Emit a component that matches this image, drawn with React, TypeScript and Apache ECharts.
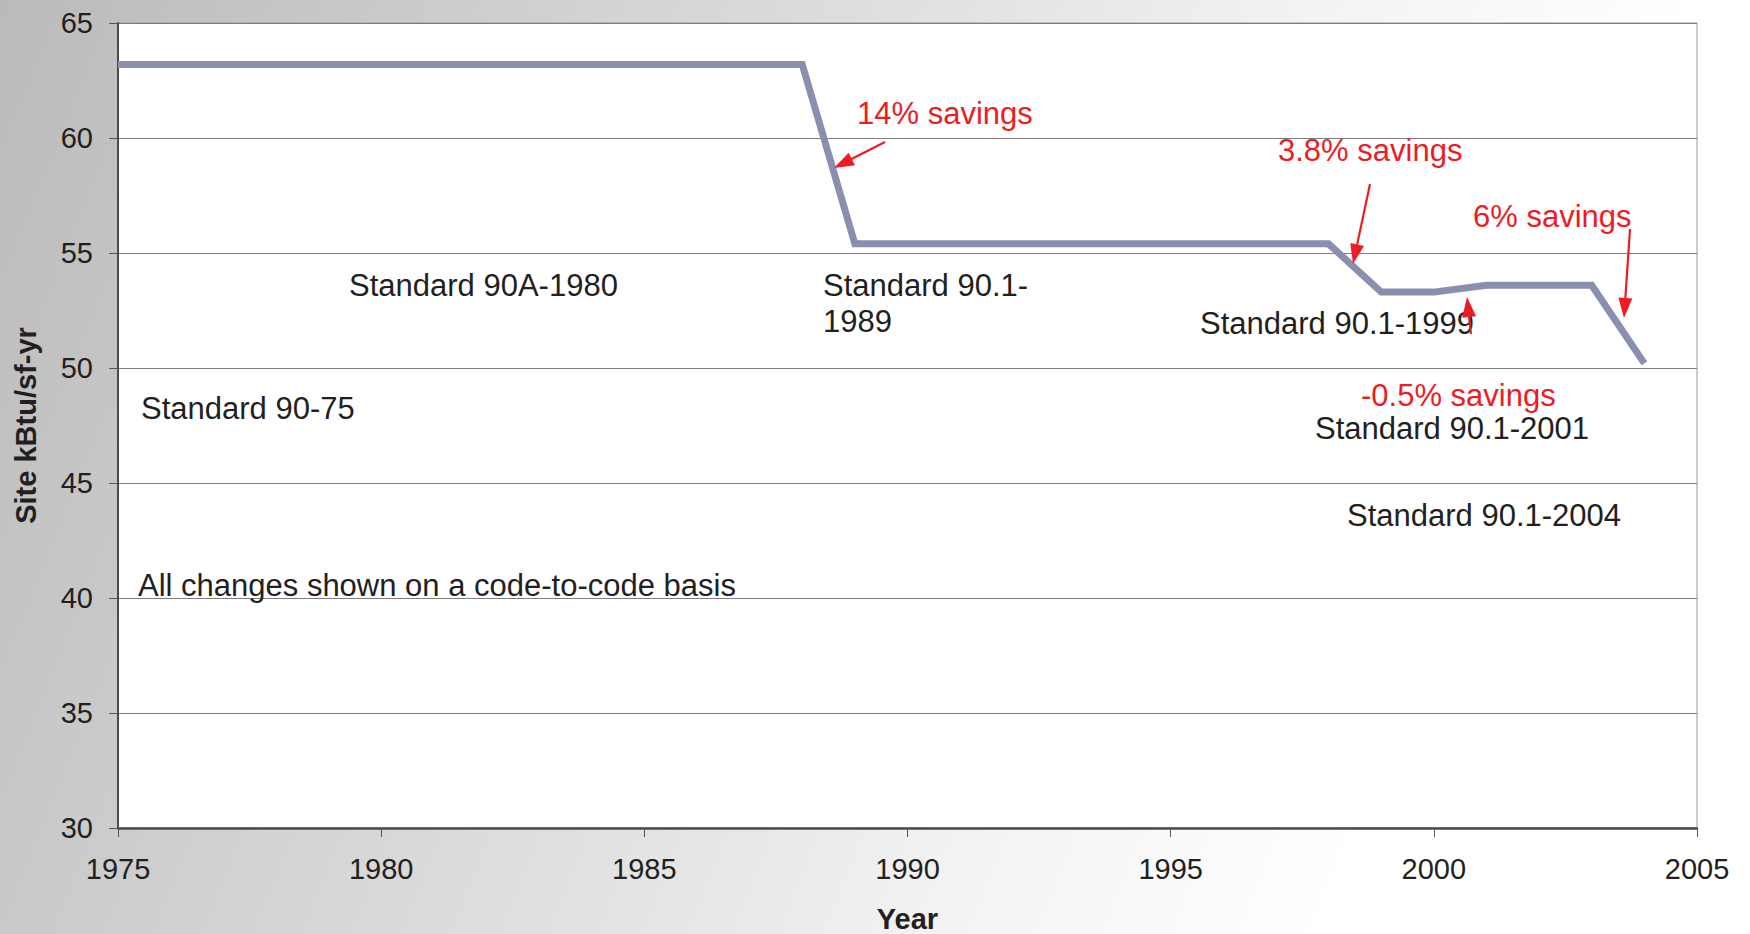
import React, { useEffect, useRef } from "react";
import * as echarts from "echarts";

const years = [1975, 1988, 1989, 1998, 1999, 2000, 2001, 2003, 2004];
const siteEUI = [63.2, 63.2, 55.4, 55.4, 53.3, 53.3, 53.6, 53.6, 50.2];

const xMin = 1975;
const xMax = 2005;
const xStep = 5;
const yMin = 30;
const yMax = 65;
const yStep = 5;

const standardLabels = [
  "Standard 90-75",
  "Standard 90A-1980",
  "Standard 90.1-\n1989",
  "Standard 90.1-1999",
  "Standard 90.1-2001",
  "Standard 90.1-2004",
];
const savingsLabels = ["14% savings", "3.8% savings", "-0.5% savings", "6% savings"];
const noteLabel = "All changes shown on a code-to-code basis";

const FONT = '"Liberation Sans", Arial, Helvetica, sans-serif';
const RED = "#ed1c24";
const INK = "#231f20";

// label positions (pixels)
const standardPos = [
  [141, 408],
  [349, 285],
  [823, 285],
  [1200, 323],
  [1315, 428],
  [1347, 515],
];
const savingsPos = [
  [857, 113],
  [1278, 150],
  [1361, 395],
  [1473, 216],
];
const arrowPos = [
  [885, 142, 834, 168],
  [1370, 184, 1353, 264],
  [1471, 334, 1467, 297],
  [1630, 229, 1624, 318],
];
const notePos = [138, 585];

function arrow(x1: number, y1: number, x2: number, y2: number) {
  const headLen = 20;
  const headW = 14;
  const dx = x2 - x1;
  const dy = y2 - y1;
  const L = Math.hypot(dx, dy);
  const ux = dx / L;
  const uy = dy / L;
  const bx = x2 - ux * headLen;
  const by = y2 - uy * headLen;
  const px = -uy;
  const py = ux;
  return [
    {
      type: "line",
      z: 100,
      shape: { x1, y1, x2: bx + ux * 2, y2: by + uy * 2 },
      style: { stroke: RED, lineWidth: 2.2 },
    },
    {
      type: "polygon",
      z: 100,
      shape: {
        points: [
          [x2, y2],
          [bx + (px * headW) / 2, by + (py * headW) / 2],
          [bx - (px * headW) / 2, by - (py * headW) / 2],
        ],
      },
      style: { fill: RED },
    },
  ];
}

function textEl(text: string, x: number, y: number, color: string) {
  const multi = text.includes("\n");
  return {
    type: "text",
    z: 100,
    x,
    y,
    style: {
      text,
      fill: color,
      font: `31px ${FONT}`,
      align: "left",
      verticalAlign: "middle",
      lineHeight: multi ? 36 : 30,
    },
  };
}

export default function App() {
  const ref = useRef<HTMLDivElement>(null);

  useEffect(() => {
    if (!ref.current) return;
    const chart = echarts.init(ref.current, undefined, { renderer: "svg" });

    const graphics: any[] = [];
    standardLabels.forEach((t, i) => {
      const [x, y] = standardPos[i];
      const yy = t.includes("\n") ? y + 18 : y;
      graphics.push(textEl(t, x, yy, INK));
    });
    savingsLabels.forEach((t, i) => {
      const [x, y] = savingsPos[i];
      graphics.push(textEl(t, x, y, RED));
    });
    graphics.push(textEl(noteLabel, notePos[0], notePos[1], INK));
    arrowPos.forEach((a) => {
      graphics.push(...arrow(a[0], a[1], a[2], a[3]));
    });

    chart.setOption({
      animation: false,
      backgroundColor: "transparent",
      grid: {
        left: 118,
        right: 53,
        top: 23,
        bottom: 106,
        show: true,
        backgroundColor: "#ffffff",
        borderColor: "#9a9a9a",
        borderWidth: 1,
        containLabel: false,
        outerBoundsMode: "none",
      },
      xAxis: {
        type: "value",
        min: xMin,
        max: xMax,
        interval: xStep,
        name: "Year",
        nameLocation: "middle",
        nameGap: 76,
        nameTextStyle: {
          fontFamily: FONT,
          fontSize: 29,
          fontWeight: "bold",
          color: INK,
        },
        axisLine: { show: true, lineStyle: { color: "#4a4a4a", width: 2.5 } },
        axisTick: { show: true, inside: false, length: 9, lineStyle: { color: "#555", width: 1 } },
        axisLabel: {
          margin: 26,
          fontFamily: FONT,
          fontSize: 29,
          color: INK,
          formatter: (v: number) => String(v),
        },
        splitLine: { show: false },
      },
      yAxis: {
        type: "value",
        min: yMin,
        max: yMax,
        interval: yStep,
        name: "Site kBtu/sf-yr",
        nameLocation: "middle",
        nameGap: 78,
        nameRotate: 90,
        nameTextStyle: {
          fontFamily: FONT,
          fontSize: 29,
          fontWeight: "bold",
          color: INK,
        },
        axisLine: { show: true, lineStyle: { color: "#4a4a4a", width: 2 } },
        axisTick: { show: true, inside: false, length: 9, lineStyle: { color: "#555", width: 1 } },
        axisLabel: {
          margin: 25,
          fontFamily: FONT,
          fontSize: 29,
          color: INK,
          formatter: (v: number) => String(v),
        },
        splitLine: { show: true, lineStyle: { color: "#7d7d7d", width: 1 } },
      },
      series: [
        {
          type: "line",
          data: years.map((y, i) => [y, siteEUI[i]]),
          symbol: "none",
          showSymbol: false,
          z: 5,
          lineStyle: { color: "#8a8fb0", width: 7, join: "miter" },
        },
      ],
      graphic: graphics,
    });

    return () => chart.dispose();
  }, []);

  return (
    <div
      ref={ref}
      style={{
        position: "fixed",
        left: 0,
        top: 0,
        width: 1750,
        height: 934,
        background:
          "linear-gradient(112deg, #bababa 0%, #cdcdcd 22%, #e2e2e2 45%, #f3f3f3 62%, #ffffff 80%)",
      }}
    />
  );
}
